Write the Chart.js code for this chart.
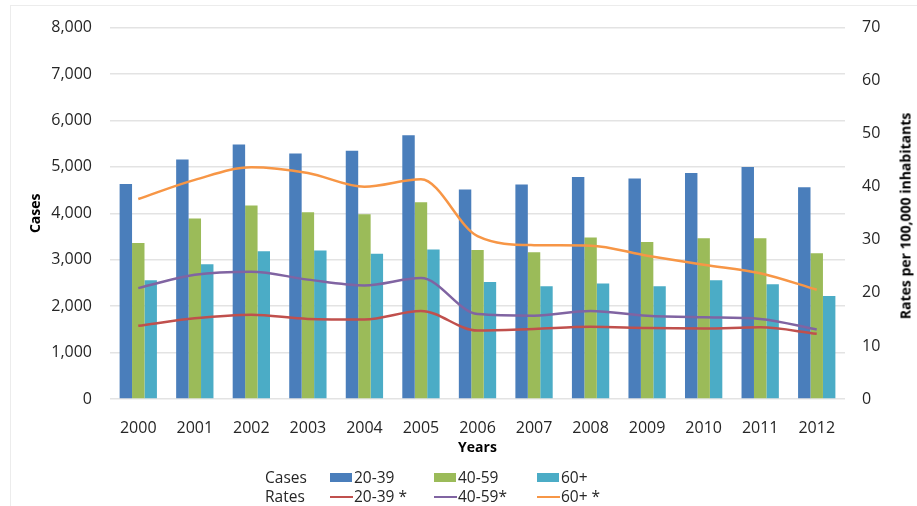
<!DOCTYPE html>
<html>
<head>
<meta charset="utf-8">
<script src="https://cdn.jsdelivr.net/npm/chart.js@4"></script>
<style>
  html, body { margin: 0; padding: 0; background: #fff; }
  #wrap { position: relative; width: 917px; height: 506px; font-family: "Open Sans", sans-serif; color: #262626; }
  #frame { position: absolute; left: 10px; top: 5px; right: 0; bottom: 0; border-left: 1px solid #ececec; border-top: 1px solid #ececec; }
  canvas { position: absolute; left: 0; top: 0; }
  .lg { position: absolute; font-size: 15.5px; line-height: 18px; }
  .sw { position: absolute; width: 22px; height: 9px; }
  .ln { position: absolute; width: 23px; height: 2px; }
  #rtitle { position: absolute; left: 905px; top: 216px; transform: translate(-50%, -50%) rotate(-90deg);
            white-space: nowrap; font-size: 14px; font-weight: bold; color: #000; }
</style>
</head>
<body>
<div id="wrap">
  <div id="frame"></div>
  <canvas id="myChart" width="917" height="506"></canvas>
  <div id="rtitle">Rates per 100,000 inhabitants</div>
  <div id="legend"></div>
</div>
<script>
const years = ['2000', '2001', '2002', '2003', '2004', '2005', '2006', '2007', '2008', '2009', '2010', '2011', '2012'];

// cases (left axis)
const cases2039 = [4630, 5160, 5480, 5290, 5350, 5680, 4510, 4620, 4780, 4750, 4870, 5000, 4560];
const cases4059 = [3360, 3890, 4170, 4020, 3980, 4240, 3210, 3160, 3480, 3380, 3460, 3460, 3140];
const cases60 = [2560, 2900, 3180, 3200, 3130, 3220, 2520, 2430, 2490, 2430, 2560, 2470, 2220];

// rates per 100,000 (right axis)
const rates2039 = [13.8, 15.2, 15.9, 15.1, 15.0, 16.6, 12.9, 13.2, 13.6, 13.4, 13.3, 13.5, 12.3];
const rates4059 = [20.9, 23.4, 24.0, 22.5, 21.4, 22.8, 16.0, 15.7, 16.6, 15.7, 15.4, 15.1, 13.1];
const rates60 = [37.7, 41.3, 43.7, 42.6, 40.0, 41.4, 30.7, 29.0, 28.9, 27.0, 25.3, 23.7, 20.6];

const blue = '#4a7ebb', green = '#9bbb59', teal = '#4bacc6';
const red = '#c0504d', purple = '#8064a2', orange = '#f79646';

function lineSet(label, data, color) {
  return {
    type: 'line', label: label, data: data, yAxisID: 'y2',
    borderColor: color, backgroundColor: color, borderWidth: 2.5,
    pointRadius: 0, tension: 0.4, cubicInterpolationMode: 'monotone', order: 0
  };
}
function barSet(label, data, color) {
  return {
    type: 'bar', label: label, data: data, yAxisID: 'y',
    backgroundColor: color, borderWidth: 0,
    barPercentage: 1, categoryPercentage: 0.66, order: 1
  };
}

const tickFont = { family: 'Open Sans', size: 16 };
const titleFont = { family: 'Open Sans', size: 14, weight: 'bold' };

const ctx = document.getElementById('myChart').getContext('2d');
new Chart(ctx, {
  data: {
    labels: years,
    datasets: [
      lineSet('20-39 *', rates2039, red),
      lineSet('40-59*', rates4059, purple),
      lineSet('60+ *', rates60, orange),
      barSet('20-39', cases2039, blue),
      barSet('40-59', cases4059, green),
      barSet('60+', cases60, teal)
    ]
  },
  options: {
    responsive: false,
    animation: false,
    layout: { padding: { left: 10, right: 0, top: 23, bottom: 45 } },
    plugins: { legend: { display: false }, tooltip: { enabled: false } },
    scales: {
      x: {
        grid: { display: false },
        border: { display: false },
        ticks: { font: tickFont, color: '#262626', padding: 12, maxRotation: 0 },
        title: { display: true, text: 'Years', font: titleFont, color: '#000', padding: { top: 0, bottom: 5 } },
        afterFit: (s) => { s.height = 62; }
      },
      y: {
        position: 'left', min: 0, max: 8000,
        ticks: { stepSize: 1000, font: tickFont, color: '#262626', padding: 18 },
        grid: { color: '#e3e3e3', lineWidth: 1.5, drawTicks: false },
        border: { display: false },
        title: { display: true, text: 'Cases', font: titleFont, color: '#000', padding: { top: 18, bottom: 0 } },
        afterFit: (s) => { s.width = 100; }
      },
      y2: {
        position: 'right', min: 0, max: 70,
        ticks: { stepSize: 10, font: tickFont, color: '#262626', padding: 17 },
        grid: { display: false, drawTicks: false },
        border: { display: false },
        title: { display: false },
        afterFit: (s) => { s.width = 72; }
      }
    }
  }
});

// custom two-row legend
const legendRows = [
  { label: 'Cases', y: 468, items: [['20-39', blue, 330], ['40-59', green, 434], ['60+', teal, 537]], kind: 'sw' },
  { label: 'Rates', y: 487, items: [['20-39 *', red, 330], ['40-59*', purple, 434], ['60+ *', orange, 537]], kind: 'ln' }
];
const lg = document.getElementById('legend');
legendRows.forEach(row => {
  const t = document.createElement('div');
  t.className = 'lg'; t.textContent = row.label;
  t.style.left = '265px'; t.style.top = row.y + 'px';
  lg.appendChild(t);
  row.items.forEach(([txt, col, x]) => {
    const m = document.createElement('div');
    m.className = row.kind; m.style.background = col;
    m.style.left = x + 'px';
    m.style.top = (row.kind === 'sw' ? row.y + 5 : row.y + 9) + 'px';
    lg.appendChild(m);
    const l = document.createElement('div');
    l.className = 'lg'; l.textContent = txt;
    l.style.left = (x + 24) + 'px'; l.style.top = row.y + 'px';
    lg.appendChild(l);
  });
});
</script>
</body>
</html>
